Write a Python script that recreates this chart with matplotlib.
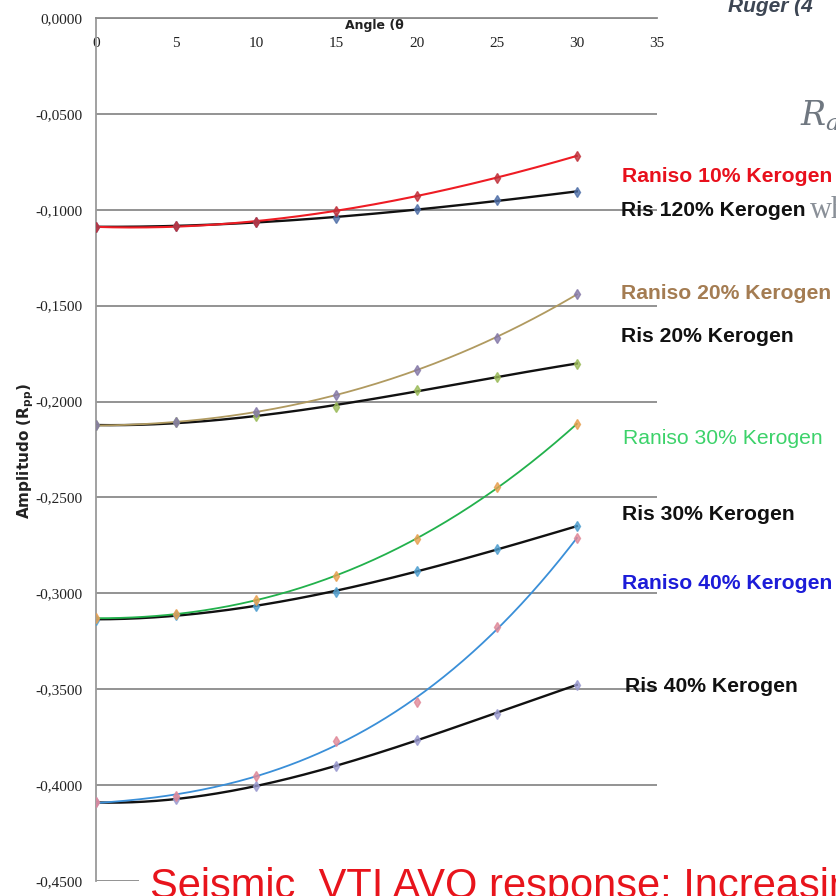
import numpy as np
import matplotlib
matplotlib.use("Agg")
import matplotlib.pyplot as plt

angles = [0, 5, 10, 15, 20, 25, 30]
raniso10 = [-0.1090, -0.1085, -0.1062, -0.1005, -0.0927, -0.0833, -0.0719]
ris10 = [-0.1090, -0.1082, -0.1062, -0.1045, -0.0998, -0.0950, -0.0906]
raniso20 = [-0.2124, -0.2109, -0.2052, -0.1966, -0.1833, -0.1667, -0.1440]
ris20 = [-0.2124, -0.2109, -0.2074, -0.2026, -0.1940, -0.1874, -0.1802]
raniso30 = [-0.3130, -0.3108, -0.3033, -0.2908, -0.2717, -0.2448, -0.2118]
ris30 = [-0.3137, -0.3113, -0.3064, -0.2991, -0.2885, -0.2769, -0.2651]
raniso40 = [-0.4090, -0.4057, -0.3953, -0.3772, -0.3566, -0.3178, -0.2713]
ris40 = [-0.4090, -0.4073, -0.4005, -0.3899, -0.3763, -0.3627, -0.3476]

x_ticks = [0, 5, 10, 15, 20, 25, 30, 35]
y_ticks = [0.0, -0.05, -0.10, -0.15, -0.20, -0.25, -0.30, -0.35, -0.40, -0.45]

labels = ["Raniso 10% Kerogen", "Ris 120% Kerogen", "Raniso 20% Kerogen", "Ris 20% Kerogen",
          "Raniso 30% Kerogen", "Ris 30% Kerogen", "Raniso 40% Kerogen", "Ris 40% Kerogen"]

W, H = 836, 896
fig = plt.figure(figsize=(W / 100, H / 100), dpi=100)
fig.patch.set_facecolor("white")
ax = fig.add_axes([96 / W, 1 - 881 / H, (657 - 96) / W, (881 - 18) / H])
ax.set_xlim(0, 35)
ax.set_ylim(-0.45, 0)

tickfont = "Liberation Serif"
ax.set_yticks(y_ticks)
ax.set_yticklabels([("%.4f" % v).replace(".", ",") if v != 0 else "0,0000" for v in y_ticks],
                   family=tickfont, fontsize=11, color="#222222")
ax.set_xticks(x_ticks)
ax.set_xticklabels([str(v) for v in x_ticks], family=tickfont, fontsize=11, color="#222222")
ax.xaxis.set_ticks_position("top")
ax.tick_params(axis="x", length=0, pad=-23)
ax.tick_params(axis="y", length=0, pad=10)
ax.yaxis.grid(True, color="#8a8a8a", lw=1.3)
ax.set_axisbelow(True)
for s in ["right", "bottom"]:
    ax.spines[s].set_visible(False)
ax.spines["left"].set_color("#9a9a9a")
ax.spines["left"].set_linewidth(1.3)
ax.spines["top"].set_color("#8a8a8a")
ax.spines["top"].set_linewidth(1.3)

series = [
    (ris10, "#111111", "#4f6fa8", 1.7),
    (raniso10, "#ee1c24", "#c0303a", 1.5),
    (ris20, "#111111", "#9bbb59", 1.7),
    (raniso20, "#b09a60", "#8478a8", 1.3),
    (ris30, "#111111", "#4f9fd0", 1.7),
    (raniso30, "#22b14c", "#e8a050", 1.3),
    (ris40, "#111111", "#9a9ad0", 1.7),
    (raniso40, "#3a8fd8", "#e08898", 1.3),
]
xs = np.linspace(angles[0], angles[-1], 200)
for vals, lc, mc, lw in series:
    coef = np.polyfit(angles, vals, 3)
    ax.plot(xs, np.polyval(coef, xs), color=lc, lw=lw, zorder=3)
    ax.plot(angles, vals, ls="none", marker="d", ms=5, color=mc, alpha=0.8, zorder=4)

# axis titles
fig.text(374 / W, 1 - 26 / H, "Angle (\u03b8", fontsize=9, fontweight="bold",
         ha="center", va="center", color="#222222")
fig.text(26 / W, 1 - 451 / H, r"Amplitudo (R$_{\mathbf{pp}}$)", rotation=90, fontsize=11,
         fontweight="bold", ha="center", va="center", color="#222222")

# right-hand labels
lab_pos = [(622, 176), (621, 211), (621, 293), (621, 336), (623, 438), (622, 514), (622, 583), (625, 687)]
lab_col = ["#e8101c", "#111111", "#a47c52", "#111111", "#3cd26a", "#111111", "#1c1cd8", "#111111"]
lab_w = ["bold", "bold", "bold", "bold", "normal", "bold", "bold", "bold"]
for t, (px, py), c, w in zip(labels, lab_pos, lab_col, lab_w):
    fig.text(px / W, 1 - py / H, t, color=c, fontsize=15.2, fontweight=w,
             ha="left", va="center", family="Liberation Sans")

# slide background fragments
fig.text(728 / W, 1 - 12 / H, "Ruger (4", color="#3d4654", fontsize=15, fontweight="bold",
         style="italic", ha="left", va="baseline", family="Liberation Sans")
fig.text(800 / W, 1 - 126 / H, r"$R_a$", color="#6f7780", fontsize=24, ha="left",
         va="baseline", math_fontfamily="dejavuserif")
fig.text(810 / W, 1 - 218 / H, "where", color="#8a9098", fontsize=22, ha="left",
         va="baseline", family="Liberation Serif", zorder=0)
fig.text(150 / W, 1 - 898 / H, "Seismic  VTI AVO response: Increasing kerogen", color="#e8141c",
         fontsize=30.0, ha="left", va="baseline", family="Liberation Sans",
         bbox=dict(facecolor="white", edgecolor="none", pad=8))

fig.savefig("out.png", dpi=100)
